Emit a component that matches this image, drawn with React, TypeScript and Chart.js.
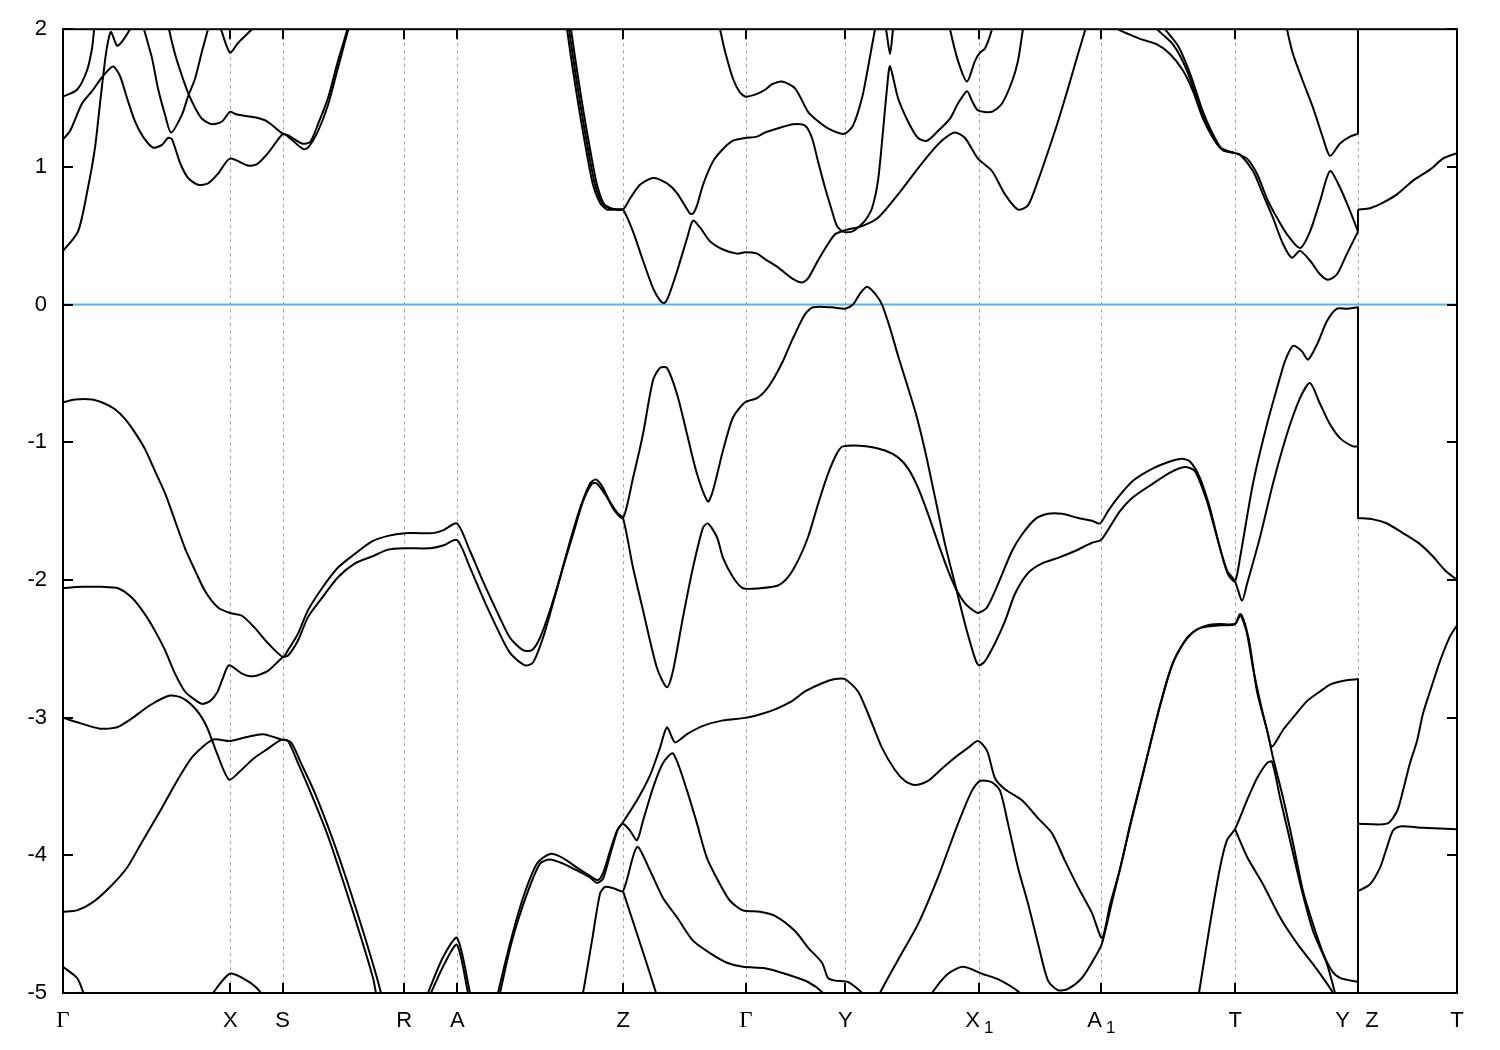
import React, { useEffect, useRef } from 'react';
import { Chart, registerables } from 'chart.js';

Chart.register(...registerables);

type Pt = [number, number];

// High-symmetry points along the k-path (path distance units) and their labels
const kPoints: number[] = [0, 167.3, 219.7, 341.3, 394.3, 560.3, 683, 782.3, 916.3, 1038.3, 1172.3, 1295, 1394];
const kLabels: string[] = ['Γ', 'X', 'S', 'R', 'A', 'Z', 'Γ', 'Y', 'X_1', 'A_1', 'T', 'Y Z', 'T'];
const kBreak = 1295; // Y | Z discontinuity of the path
const energyMin = -5;
const energyMax = 2;
const fermiLevel: Pt[] = [[0, 0], [1394, 0]];

// band energies at Y (end of T–Y) joined to the energies at Z (start of Z–T)
const yzJoins: Pt[] = [[1.24, 2.1], [0.53, 0.69], [-0.02, -1.55], [-1.03, -1.55], [-2.72, -4.26], [-4.92, -3.77], [-5.1, -4.26]];

// ---- conduction bands ----
const bandA: Pt[] = [[0,0.39],[15,0.53],[25,0.85],[32,1.14],[37,1.46],[42,1.77],[45,1.91],[48,1.98],[54,1.88],[59,1.91],[67,2.0],[71,2.06]];
const bandB: Pt[] = [[0,1.51],[14,1.56],[24,1.70],[29,1.86],[31,1.99],[32,2.06]];
const bandC: Pt[] = [[0,1.20],[7,1.26],[19,1.46],[29,1.55],[40,1.66],[50,1.73],[57,1.66],[64,1.50],[72,1.33],[80,1.22],[90,1.14],[99,1.16],[105,1.21],[109,1.20],[117,1.03],[125,0.92],[135,0.87],[145,0.88],[155,0.95],[167,1.06],[185,1.01],[194,1.02],[205,1.10],[220,1.24],[225,1.22],[240,1.13],[245,1.14],[255,1.26],[265,1.45],[275,1.72],[282,1.91],[285,1.99],[287,2.06]];
const bandD: Pt[] = [[104,2.09],[106,2.0],[112,1.82],[119,1.66],[125,1.54],[132,1.43],[139,1.35],[149,1.31],[159,1.33],[167,1.40],[174,1.38],[192,1.36],[204,1.33],[220,1.24],[225,1.23],[239,1.17],[247,1.18],[255,1.31],[265,1.50],[275,1.77],[284,1.99],[286,2.06]];
const bandE: Pt[] = [[79,2.06],[81,2.0],[89,1.79],[95,1.57],[102,1.38],[108,1.25],[119,1.38],[125,1.51],[132,1.64],[139,1.84],[145,2.0],[147,2.06]];
const bandG: Pt[] = [[156,2.06],[158,2.0],[167,1.83],[175,1.90],[189,2.0],[197,2.06]];
const bandZu: Pt[] = [[503,2.06],[504,2.0],[510,1.70],[517,1.38],[524,1.09],[530,0.87],[537,0.74],[544,0.69],[552,0.69],[560,0.69],[567,0.77],[577,0.87],[590,0.92],[604,0.88],[614,0.81],[627,0.66],[630,0.66],[634,0.72],[640,0.87],[650,1.04],[660,1.13],[670,1.19],[682,1.21],[694,1.22],[702,1.25],[715,1.28],[730,1.31],[742,1.30],[749,1.21],[755,1.04],[762,0.85],[769,0.68],[774,0.57],[780,0.53],[789,0.53],[795,0.56],[802,0.61],[809,0.70],[815,0.90],[820,1.26],[824,1.57],[827,1.73],[835,1.50],[845,1.33],[855,1.21],[864,1.19],[875,1.26],[887,1.35],[895,1.46],[904,1.55],[909,1.48],[915,1.41],[929,1.40],[939,1.46],[949,1.62],[955,1.77],[960,2.0],[962,2.06]];
const bandZl: Pt[] = [[505,2.06],[506,2.0],[512,1.70],[519,1.38],[526,1.09],[532,0.87],[539,0.74],[546,0.70],[553,0.69],[560,0.69],[570,0.53],[580,0.32],[590,0.12],[597,0.03],[601,0.01],[605,0.05],[614,0.24],[624,0.48],[630,0.61],[637,0.56],[647,0.46],[660,0.40],[674,0.37],[682,0.38],[694,0.37],[702,0.33],[715,0.27],[729,0.19],[739,0.16],[745,0.19],[755,0.32],[765,0.44],[772,0.51],[782,0.54],[799,0.57],[815,0.63],[835,0.80],[855,0.99],[872,1.14],[882,1.21],[892,1.25],[902,1.21],[915,1.06],[929,0.97],[942,0.80],[955,0.69],[965,0.72],[975,0.90],[985,1.11],[995,1.33],[1005,1.57],[1015,1.82],[1022,1.99],[1024,2.06]];
const bandZ3: Pt[] = [[507,2.06],[508,2.0],[514,1.70],[521,1.38],[528,1.09],[534,0.87],[541,0.73],[548,0.70],[554,0.69],[560,0.69]];
const bandU2: Pt[] = [[655,2.06],[657,2.0],[662,1.84],[670,1.64],[677,1.54],[683,1.51],[694,1.53],[702,1.56],[709,1.60],[719,1.62],[732,1.57],[745,1.40],[752,1.35],[765,1.28],[781,1.24],[790,1.30],[799,1.50],[805,1.72],[812,2.0],[814,2.06]];
const bandV890: Pt[] = [[820,2.06],[823,2.0],[827,1.82],[830,2.0],[831,2.06]];
const bandVX1: Pt[] = [[886,2.06],[887,2.0],[895,1.77],[904,1.62],[912,1.77],[917,1.83],[922,1.86],[929,2.0],[930,2.06]];
const bandP: Pt[] = [[1049,2.06],[1055,2.0],[1067,1.96],[1077,1.93],[1094,1.89],[1107,1.82],[1120,1.70],[1130,1.55],[1140,1.35],[1150,1.21],[1160,1.12],[1172,1.10],[1184,1.06],[1194,0.95],[1204,0.77],[1214,0.63],[1224,0.51],[1237,0.41],[1247,0.53],[1257,0.75],[1267,0.97],[1277,0.85],[1287,0.68],[1295,0.53]];
const bandPZ: Pt[] = [[1295,0.69],[1307,0.70],[1320,0.74],[1334,0.80],[1350,0.90],[1367,0.98],[1380,1.06],[1394,1.10]];
const bandQ: Pt[] = [[1089,2.06],[1094,2.0],[1110,1.89],[1124,1.70],[1137,1.43],[1147,1.26],[1157,1.14],[1172,1.10],[1177,1.09],[1190,0.97],[1200,0.80],[1210,0.63],[1220,0.44],[1229,0.34],[1237,0.39],[1247,0.32],[1257,0.22],[1265,0.18],[1274,0.22],[1284,0.37],[1295,0.53]];
const bandQ2: Pt[] = [[1097,2.06],[1102,2.0],[1115,1.88],[1127,1.68],[1139,1.42],[1149,1.25],[1159,1.13],[1172,1.10]];
const bandS: Pt[] = [[1223,2.06],[1224,2.0],[1230,1.82],[1240,1.62],[1250,1.43],[1260,1.21],[1267,1.08],[1277,1.17],[1287,1.22],[1295,1.24]];

// ---- valence bands ----
const bandV1: Pt[] = [[0,-0.71],[12,-0.69],[29,-0.69],[42,-0.72],[52,-0.76],[62,-0.83],[72,-0.93],[82,-1.05],[92,-1.21],[102,-1.37],[112,-1.57],[122,-1.77],[132,-1.93],[142,-2.08],[155,-2.20],[167,-2.24],[179,-2.26],[192,-2.35],[205,-2.46],[220,-2.56],[225,-2.51],[235,-2.39],[245,-2.22],[259,-2.06],[275,-1.91],[292,-1.81],[309,-1.72],[325,-1.68],[342,-1.66],[357,-1.66],[370,-1.66],[380,-1.64],[394,-1.59],[407,-1.79],[420,-2.01],[434,-2.23],[447,-2.42],[460,-2.51],[469,-2.51],[477,-2.42],[487,-2.22],[497,-1.98],[507,-1.72],[517,-1.48],[527,-1.30],[533,-1.27],[540,-1.33],[550,-1.48],[560,-1.55],[570,-1.26],[580,-0.94],[590,-0.55],[597,-0.46],[604,-0.46],[614,-0.65],[624,-0.94],[634,-1.23],[645,-1.43],[650,-1.35],[660,-1.06],[670,-0.82],[682,-0.71],[694,-0.68],[704,-0.61],[712,-0.52],[720,-0.41],[729,-0.26],[742,-0.07],[750,-0.02],[769,-0.02],[782,-0.03],[790,0.0],[797,0.08],[804,0.13],[812,0.08],[819,0.0],[827,-0.17],[835,-0.37],[852,-0.77],[862,-1.06],[872,-1.40],[882,-1.74],[892,-2.03],[902,-2.32],[912,-2.57],[916,-2.62],[922,-2.59],[932,-2.46],[942,-2.30],[952,-2.10],[965,-1.95],[979,-1.88],[995,-1.84],[1012,-1.79],[1029,-1.73],[1038,-1.71],[1049,-1.59],[1057,-1.50],[1070,-1.40],[1090,-1.30],[1107,-1.22],[1122,-1.18],[1132,-1.21],[1144,-1.43],[1154,-1.69],[1164,-1.93],[1172,-2.01],[1179,-2.15],[1184,-2.03],[1197,-1.69],[1210,-1.30],[1224,-0.94],[1237,-0.68],[1247,-0.57],[1257,-0.72],[1267,-0.87],[1277,-0.97],[1290,-1.03],[1295,-1.03]];
const bandV2: Pt[] = [[0,-2.06],[19,-2.05],[39,-2.05],[55,-2.06],[69,-2.13],[82,-2.25],[92,-2.37],[102,-2.51],[112,-2.68],[122,-2.81],[130,-2.86],[139,-2.90],[147,-2.88],[154,-2.82],[159,-2.73],[166,-2.62],[179,-2.68],[190,-2.70],[205,-2.66],[220,-2.56],[225,-2.55],[235,-2.44],[245,-2.27],[259,-2.13],[275,-1.98],[292,-1.88],[309,-1.83],[325,-1.78],[342,-1.77],[367,-1.77],[380,-1.75],[394,-1.71],[407,-1.91],[420,-2.13],[434,-2.35],[447,-2.53],[462,-2.62],[470,-2.60],[480,-2.42],[490,-2.17],[500,-1.91],[510,-1.67],[520,-1.43],[529,-1.30],[534,-1.30],[544,-1.40],[554,-1.51],[560,-1.55],[570,-1.91],[580,-2.22],[594,-2.64],[604,-2.78],[610,-2.66],[620,-2.27],[630,-1.91],[640,-1.62],[645,-1.59],[654,-1.69],[660,-1.84],[670,-1.98],[680,-2.06],[697,-2.06],[715,-2.04],[725,-1.98],[735,-1.86],[745,-1.69],[755,-1.45],[765,-1.23],[774,-1.08],[780,-1.03],[805,-1.03],[822,-1.06],[835,-1.11],[845,-1.19],[855,-1.33],[865,-1.52],[875,-1.73],[885,-1.93],[894,-2.08],[902,-2.17],[910,-2.22],[915,-2.24],[924,-2.20],[935,-2.03],[949,-1.79],[959,-1.67],[972,-1.56],[985,-1.52],[999,-1.52],[1015,-1.55],[1029,-1.57],[1037,-1.59],[1045,-1.50],[1055,-1.40],[1070,-1.28],[1090,-1.19],[1107,-1.14],[1119,-1.12],[1127,-1.14],[1137,-1.26],[1147,-1.48],[1157,-1.77],[1165,-1.96],[1172,-2.01],[1177,-1.84],[1190,-1.30],[1204,-0.87],[1217,-0.53],[1222,-0.41],[1230,-0.30],[1239,-0.34],[1245,-0.40],[1254,-0.29],[1264,-0.12],[1274,-0.03],[1284,-0.03],[1295,-0.02]];
const bandV2Z: Pt[] = [[1295,-1.55],[1310,-1.56],[1324,-1.59],[1340,-1.66],[1357,-1.74],[1370,-1.83],[1382,-1.93],[1394,-2.00]];
const bandV3: Pt[] = [[0,-3.00],[17,-3.04],[37,-3.08],[54,-3.07],[70,-3.00],[87,-2.91],[107,-2.84],[120,-2.86],[134,-2.95],[144,-3.07],[154,-3.26],[166,-3.45],[177,-3.39],[190,-3.30],[204,-3.23],[219,-3.16],[228,-3.18],[238,-3.33],[252,-3.55],[269,-3.87],[286,-4.23],[303,-4.62],[314,-4.89],[318,-5.00],[320,-5.05]];
const bandV4: Pt[] = [[0,-4.41],[14,-4.40],[30,-4.34],[47,-4.23],[64,-4.09],[80,-3.89],[97,-3.68],[114,-3.46],[130,-3.28],[150,-3.16],[167,-3.17],[184,-3.14],[200,-3.12],[219,-3.16],[225,-3.17],[235,-3.33],[248,-3.55],[265,-3.86],[282,-4.23],[299,-4.62],[310,-4.89],[313,-5.00],[315,-5.05]];
const bandGammaLow: Pt[] = [[0,-4.81],[14,-4.89],[20,-4.99],[22,-5.05]];
const bandXLow: Pt[] = [[147,-5.05],[150,-5.00],[167,-4.86],[184,-4.91],[197,-4.99],[199,-5.05]];
const bandRA1: Pt[] = [[363,-5.05],[365,-5.00],[380,-4.74],[394,-4.60],[407,-5.00],[408,-5.05]];
const bandRA2: Pt[] = [[366,-5.05],[368,-5.00],[382,-4.78],[394,-4.65],[405,-5.00],[406,-5.05]];
const bandAlpha: Pt[] = [[434,-5.05],[435,-5.00],[447,-4.64],[460,-4.31],[474,-4.06],[487,-3.99],[500,-4.02],[514,-4.09],[527,-4.15],[535,-4.18],[540,-4.13],[547,-3.97],[554,-3.82],[559,-3.77],[574,-3.60],[587,-3.42],[597,-3.22],[604,-3.07],[612,-3.18],[624,-3.12],[640,-3.06],[660,-3.02],[684,-3.00],[700,-2.97],[712,-2.94],[729,-2.88],[742,-2.81],[759,-2.75],[772,-2.72],[782,-2.72],[795,-2.81],[805,-2.97],[819,-3.22],[832,-3.38],[842,-3.46],[852,-3.49],[865,-3.46],[879,-3.37],[892,-3.29],[905,-3.22],[915,-3.17],[924,-3.24],[932,-3.44],[942,-3.52],[959,-3.60],[975,-3.73],[989,-3.84],[1002,-4.04],[1015,-4.23],[1029,-4.42],[1039,-4.60],[1047,-4.36],[1057,-4.10],[1067,-3.78],[1077,-3.49],[1087,-3.20],[1097,-2.91],[1107,-2.66],[1117,-2.50],[1130,-2.38],[1144,-2.33],[1157,-2.32],[1172,-2.32],[1177,-2.25],[1184,-2.39],[1190,-2.64],[1197,-2.88],[1204,-3.09],[1209,-3.21],[1220,-3.09],[1230,-3.00],[1244,-2.88],[1257,-2.81],[1267,-2.76],[1282,-2.73],[1295,-2.72]];
const bandAlphaZ: Pt[] = [[1295,-4.26],[1307,-4.21],[1317,-4.09],[1324,-3.94],[1330,-3.82],[1337,-3.79],[1360,-3.80],[1394,-3.81]];
const bandBeta: Pt[] = [[436,-5.05],[437,-5.00],[449,-4.62],[464,-4.28],[477,-4.06],[487,-4.03],[500,-4.06],[514,-4.11],[527,-4.16],[534,-4.20],[540,-4.17],[547,-4.00],[555,-3.81],[560,-3.77],[567,-3.82],[574,-3.89],[580,-3.75],[590,-3.51],[600,-3.33],[610,-3.26],[624,-3.53],[634,-3.77],[644,-4.02],[657,-4.21],[667,-4.33],[680,-4.40],[697,-4.41],[712,-4.44],[732,-4.55],[745,-4.67],[759,-4.78],[765,-4.89],[772,-4.91],[785,-4.92],[799,-5.00],[801,-5.05]];
const bandGamma: Pt[] = [[518,-5.05],[520,-5.00],[529,-4.62],[537,-4.28],[542,-4.23],[551,-4.24],[560,-4.26],[574,-3.94],[587,-4.11],[600,-4.31],[614,-4.45],[630,-4.62],[647,-4.71],[664,-4.78],[680,-4.81],[702,-4.82],[722,-4.86],[745,-4.92],[760,-5.00],[762,-5.05]];
const bandDelta: Pt[] = [[560,-4.26],[574,-4.57],[587,-4.86],[593,-5.00],[595,-5.05]];
const bandEps: Pt[] = [[815,-5.05],[817,-5.00],[835,-4.76],[855,-4.50],[875,-4.16],[895,-3.77],[909,-3.53],[917,-3.46],[929,-3.47],[937,-3.53],[945,-3.77],[955,-4.09],[965,-4.35],[975,-4.64],[985,-4.91],[995,-4.98],[1005,-4.97],[1019,-4.89],[1032,-4.74],[1039,-4.64],[1048,-4.37],[1058,-4.07],[1068,-3.76],[1078,-3.47],[1088,-3.17],[1098,-2.89],[1110,-2.60],[1124,-2.42],[1137,-2.35],[1157,-2.33],[1172,-2.32],[1178,-2.25],[1186,-2.44],[1194,-2.81],[1204,-3.09],[1210,-3.29],[1220,-3.58],[1230,-3.91],[1240,-4.26],[1250,-4.50],[1260,-4.71],[1269,-4.84],[1277,-4.89],[1295,-4.92]];
const bandEpsZ: Pt[] = [[1295,-3.77],[1324,-3.77],[1334,-3.68],[1340,-3.53],[1347,-3.33],[1354,-3.17],[1360,-2.97],[1367,-2.81],[1377,-2.59],[1387,-2.41],[1394,-2.33]];
const bandZeta: Pt[] = [[867,-5.05],[869,-5.00],[885,-4.86],[900,-4.81],[919,-4.86],[935,-4.90],[957,-5.00],[959,-5.05]];
const bandEta: Pt[] = [[1135,-5.05],[1136,-5.00],[1147,-4.50],[1157,-4.09],[1164,-3.89],[1172,-3.81],[1184,-3.60],[1194,-3.44],[1204,-3.33],[1209,-3.32],[1217,-3.58],[1227,-3.89],[1239,-4.26],[1250,-4.55],[1264,-4.79],[1272,-5.00],[1274,-5.05]];
const bandTheta: Pt[] = [[1172,-3.81],[1184,-4.01],[1200,-4.21],[1217,-4.45],[1234,-4.64],[1250,-4.79],[1260,-4.89],[1270,-5.00],[1271,-5.05]];

const bands: Pt[][] = [
  bandA, bandB, bandC, bandD, bandE, bandG, bandZu, bandZl, bandZ3, bandU2, bandV890, bandVX1,
  bandP, bandPZ, bandQ, bandQ2, bandS,
  bandV1, bandV2, bandV2Z, bandV3, bandV4, bandGammaLow, bandXLow, bandRA1, bandRA2,
  bandAlpha, bandAlphaZ, bandBeta, bandGamma, bandDelta, bandEps, bandEpsZ, bandZeta, bandEta, bandTheta,
];

const SANS = '"Liberation Sans", Arial, sans-serif';
const SERIF = '"Liberation Serif", "Times New Roman", serif';

function drawKLabel(ctx: CanvasRenderingContext2D, text: string, cx: number, base: number) {
  ctx.fillStyle = '#000';
  ctx.textBaseline = 'alphabetic';
  if (text === 'Γ') {
    ctx.font = `23px ${SERIF}`;
    ctx.textAlign = 'center';
    ctx.fillText(text, cx, base);
    return;
  }
  if (text.includes('_')) {
    const [m, s] = text.split('_');
    ctx.font = `22px ${SANS}`;
    const wm = ctx.measureText(m).width;
    ctx.font = `17px ${SANS}`;
    const ws = ctx.measureText(s).width;
    const gap = 4;
    const left = cx - (wm + gap + ws) / 2;
    ctx.textAlign = 'left';
    ctx.font = `22px ${SANS}`;
    ctx.fillText(m, left, base);
    ctx.font = `17px ${SANS}`;
    ctx.fillText(s, left + wm + gap, base + 6);
    return;
  }
  ctx.font = `22px ${SANS}`;
  ctx.textAlign = 'center';
  if (text.includes(' ')) {
    const [l, r] = text.split(' ');
    ctx.fillText(l, cx - 15.5, base);
    ctx.fillText(r, cx + 14, base);
    return;
  }
  ctx.fillText(text, cx, base);
}

const framePlugin = {
  id: 'bandFrame',
  beforeDatasetsDraw(chart: any) {
    const { ctx, chartArea: a, scales } = chart;
    const xs = scales.x;
    ctx.save();
    ctx.strokeStyle = '#a0a0a0';
    ctx.lineWidth = 1;
    ctx.setLineDash([3, 4]);
    for (const k of kPoints.slice(1, -1)) {
      const px = Math.round(xs.getPixelForValue(k)) + 0.5;
      ctx.beginPath();
      ctx.moveTo(px, a.top);
      ctx.lineTo(px, a.bottom);
      ctx.stroke();
    }
    ctx.restore();
  },
  afterDatasetsDraw(chart: any) {
    const { ctx, chartArea: a, scales } = chart;
    const xs = scales.x;
    const ys = scales.y;
    ctx.save();
    ctx.setLineDash([]);
    ctx.strokeStyle = '#000';
    ctx.lineWidth = 2;
    for (let e = energyMin; e <= energyMax; e++) {
      const py = Math.round(ys.getPixelForValue(e));
      ctx.beginPath();
      ctx.moveTo(a.left, py);
      ctx.lineTo(a.left + 10, py);
      ctx.moveTo(a.right, py);
      ctx.lineTo(a.right - 10, py);
      ctx.stroke();
    }
    for (const k of kPoints.slice(1, -1)) {
      const px = Math.round(xs.getPixelForValue(k));
      ctx.beginPath();
      ctx.moveTo(px, a.bottom);
      ctx.lineTo(px, a.bottom - 10);
      ctx.moveTo(px, a.top);
      ctx.lineTo(px, a.top + 10);
      ctx.stroke();
    }
    ctx.strokeRect(a.left, a.top, a.right - a.left, a.bottom - a.top);
    kPoints.forEach((k, i) => {
      drawKLabel(ctx, kLabels[i], xs.getPixelForValue(k), a.bottom + 34);
    });
    ctx.restore();
  },
};

export default function App() {
  const ref = useRef<HTMLCanvasElement | null>(null);
  useEffect(() => {
    if (!ref.current) return;
    const lineStyle = {
      borderColor: '#000',
      borderWidth: 2,
      pointRadius: 0,
      fill: false,
      borderJoinStyle: 'round',
    };
    const datasets: any[] = bands.map((b) => ({
      ...lineStyle,
      data: b.map(([x, y]) => ({ x, y })),
      tension: 0.25,
    }));
    yzJoins.forEach(([eY, eZ]) => {
      datasets.push({
        ...lineStyle,
        data: [{ x: kBreak, y: eY }, { x: kBreak, y: eZ }],
        tension: 0,
      });
    });
    datasets.push({
      data: fermiLevel.map(([x, y]) => ({ x, y })),
      borderColor: 'rgb(86,180,233)',
      borderWidth: 2,
      pointRadius: 0,
      fill: false,
    });
    const chart = new Chart(ref.current, {
      type: 'line',
      data: { datasets },
      options: {
        responsive: false,
        maintainAspectRatio: false,
        animation: false,
        devicePixelRatio: 1,
        events: [],
        layout: { padding: { top: 28, right: 43, left: 0, bottom: 0 } },
        plugins: { legend: { display: false }, tooltip: { enabled: false } },
        scales: {
          x: {
            type: 'linear',
            min: 0,
            max: 1394,
            grid: { display: false },
            border: { display: false },
            ticks: { display: false },
            afterFit: (s: any) => { s.height = 57; },
          },
          y: {
            type: 'linear',
            min: energyMin,
            max: energyMax,
            grid: { display: false, drawTicks: false },
            border: { display: false },
            ticks: {
              stepSize: 1,
              padding: 16,
              color: '#000',
              font: { family: SANS, size: 22 },
              callback: (v: any) => String(v),
            },
            afterFit: (s: any) => { s.width = 63; },
          },
        },
      } as any,
      plugins: [framePlugin],
    });
    return () => chart.destroy();
  }, []);
  return (
    <div style={{ position: 'absolute', left: 0, top: 0, width: 1500, height: 1050, background: '#fff' }}>
      <canvas ref={ref} width={1500} height={1050} style={{ display: 'block' }} />
    </div>
  );
}
